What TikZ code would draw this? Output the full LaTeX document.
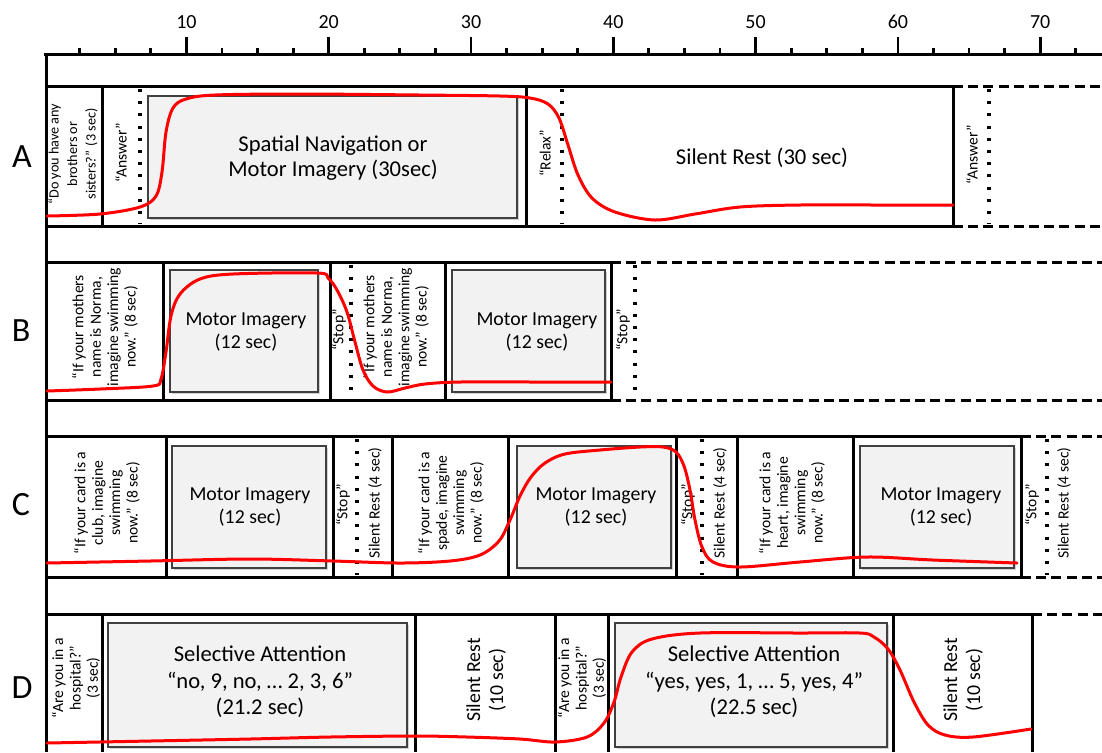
\documentclass[tikz,border=0pt]{standalone}
\usepackage{fontspec}
\setmainfont{Carlito}
\usetikzlibrary{shadows,fit}
\begin{document}
\begin{tikzpicture}[x=0.5pt,y=-0.5pt,
  frame/.style={line width=1.5pt},
  dashline/.style={line width=1.5pt, dash pattern=on 5pt off 2.6pt},
  dotline/.style={line width=1.6pt, dash pattern=on 1.5pt off 4.6pt},
  greybox/.style={draw=black!75, line width=0.6pt, fill=black!5, inner sep=0pt,
     drop shadow={shadow xshift=1.2pt, shadow yshift=-1.2pt, fill=black!35}},
  redcurve/.style={draw=red, line width=1.5pt, line join=round, line cap=round},
  small/.style={rotate=90, align=center, font=\fontsize{7.8}{8.7}\selectfont, inner sep=0pt},
  smallA/.style={rotate=90, align=center, font=\fontsize{7.1}{9.2}\selectfont, inner sep=0pt},
  mid/.style={rotate=90, align=center, font=\fontsize{9.9}{11.5}\selectfont, inner sep=0pt},
  bigA/.style={align=center, font=\fontsize{11.3}{12.8}\selectfont, inner sep=0pt},
  bigB/.style={align=center, font=\fontsize{9.9}{11.5}\selectfont, inner sep=0pt},
  bigD/.style={align=center, font=\fontsize{11.3}{13.3}\selectfont, inner sep=0pt},
  rowlbl/.style={font=\fontsize{17}{19}\selectfont, inner sep=0pt},
  rulerlbl/.style={font=\fontsize{10}{11}\selectfont, inner sep=0pt}]
\useasboundingbox (0,0) rectangle (1102,752);
\fill[white] (0,0) rectangle (1102,752);

% ruler
\draw[frame] (44,54) -- (1102,54);
\foreach \t in {2.5,5,...,72.5} \draw[line width=1.4pt] ({44.1+14.23*\t},54) -- ({44.1+14.23*\t},48);
\foreach \t in {10,20,...,70} {
  \draw[line width=1.4pt] ({44.1+14.23*\t},54) -- ({44.1+14.23*\t},37);
  \node[rulerlbl] (r\t) at ({44.1+14.23*\t},22) {\t};
}
% left frame
\draw[frame] (46,54) -- (46,752);

% row labels
\node[rowlbl] (lA) at (22,157) {A};
\node[rowlbl] (lB) at (21,331) {B};
\node[rowlbl] (lC) at (21,505) {C};
\node[rowlbl] (lD) at (22,688) {D};

% ---------------- Row A
\draw[frame] (46,86) -- (953,86);
\draw[frame] (46,226) -- (953,226);
\draw[dashline] (953,86) -- (1102,86);
\draw[dashline] (953,226) -- (1102,226);
\foreach \x in {102,526,953} \draw[frame] (\x,86) -- (\x,226);
\foreach \x in {140,562,989} \draw[dotline] (\x,89) -- (\x,224);
\node[smallA] (a1) at (73,154) {“Do you have any\\brothers or\\sisters?” (3 sec)};
\node[small] (a2) at (121,153) {“Answer”};
\node[greybox, fit={(148,96) (517,218)}] (aBox) {};
\node[bigA] (aBoxT) at (333,158) {Spatial Navigation or\\Motor Imagery (30sec)};
\node[small] (a3) at (545,153) {“Relax”};
\node[bigA] (a4) at (762,158) {Silent Rest (30 sec)};
\node[small] (a5) at (972,155) {“Answer”};
\draw[redcurve] plot[smooth, tension=0.55] coordinates {(47,216) (100,214) (140,207) (156,196) (162,172) (166,132) (173,108) (186,99) (215,95) (300,94) (420,95) (500,96) (530,98) (548,104) (559,118) (568,145) (578,175) (592,198) (615,212) (655,220) (695,214) (740,207) (800,205) (880,205) (953,205)};

% ---------------- Row B
\draw[frame] (46,262) -- (611,262);
\draw[frame] (46,400) -- (611,400);
\draw[dashline] (611,262) -- (1102,262);
\draw[dashline] (611,400) -- (1102,400);
\foreach \x in {163,330,445,611} \draw[frame] (\x,262) -- (\x,400);
\foreach \x in {351,635} \draw[dotline] (\x,265) -- (\x,398);
\node[small] (b1) at (105,327) {“If your mothers\\name is Norma,\\imagine swimming\\now.” (8 sec)};
\node[greybox, fit={(170,270) (318,392)}] (bBox1) {};
\node[bigB] (bBox1T) at (246,332) {Motor Imagery\\(12 sec)};
\node[small] (b2) at (339,330) {“Stop”};
\node[small] (b3) at (396,327) {“If your mothers\\name is Norma,\\imagine swimming\\now.” (8 sec)};
\node[greybox, fit={(452,270) (605,392)}] (bBox2) {};
\node[bigB] (bBox2T) at (537,332) {Motor Imagery\\(12 sec)};
\node[small] (b4) at (623,330) {“Stop”};
\draw[redcurve] plot[smooth, tension=0.55] coordinates {(47,391) (100,389) (153,386) (161,379) (166,352) (171,316) (180,294) (200,279) (233,274) (317,273) (328,278) (337,290) (347,312) (355,342) (363,370) (373,386) (387,392) (405,388) (425,384) (460,382) (540,382) (611,382)};

% ---------------- Row C
\draw[frame] (46,436) -- (1021,436);
\draw[frame] (46,577) -- (1021,577);
\draw[dashline] (1021,436) -- (1102,436);
\draw[dashline] (1021,577) -- (1102,577);
\foreach \x in {166,333,392,508,676,737,853,1021} \draw[frame] (\x,436) -- (\x,577);
\foreach \x in {357,702,1047} \draw[dotline] (\x,439) -- (\x,575);
\node[small] (c1) at (107,503) {“If your card is a\\club, imagine\\swimming\\now.” (8 sec)};
\node[greybox, fit={(172,446) (326,568)}] (cBox1) {};
\node[bigB] (cBox1T) at (250,507) {Motor Imagery\\(12 sec)};
\node[small] (c2) at (343,505) {“Stop”};
\node[small] (c3) at (375,503) {Silent Rest (4 sec)};
\node[small] (c4) at (451,503) {“If your card is a\\spade, imagine\\swimming\\now.” (8 sec)};
\node[greybox, fit={(517,446) (671,568)}] (cBox2) {};
\node[bigB] (cBox2T) at (596,507) {Motor Imagery\\(12 sec)};
\node[small] (c5) at (688,505) {“Stop”};
\node[small] (c6) at (720,503) {Silent Rest (4 sec)};
\node[small] (c7) at (792,503) {“If your card is a\\heart, imagine\\swimming\\now.” (8 sec)};
\node[greybox, fit={(860,446) (1014,568)}] (cBox3) {};
\node[bigB] (cBox3T) at (941,507) {Motor Imagery\\(12 sec)};
\node[small] (c8) at (1032,505) {“Stop”};
\node[small] (c9) at (1064,503) {Silent Rest (4 sec)};
\draw[redcurve] plot[smooth, tension=0.55] coordinates {(47,563) (150,561) (250,559) (333,561) (400,563) (450,561) (480,555) (499,541) (510,520) (520,496) (531,477) (545,463) (565,454) (600,450) (640,447) (663,447) (676,452) (684,466) (690,490) (695,520) (702,547) (713,562) (740,567) (800,562) (867,557) (933,560) (1017,563)};

% ---------------- Row D
\draw[frame] (46,614) -- (1032,614);
\draw[dashline] (1032,614) -- (1102,614);
\foreach \x in {102,415,555,608,893,1032} \draw[frame] (\x,614) -- (\x,752);
\node[small] (d1) at (76,678) {“Are you in a\\hospital?”\\(3 sec)};
\node[greybox, fit={(108,623) (407,747)}] (dBox1) {};
\node[bigD] (dBox1T) at (260,682) {Selective Attention\\“no, 9, no, … 2, 3, 6”\\(21.2 sec)};
\node[mid] (d2) at (486,680) {Silent Rest\\(10 sec)};
\node[small] (d3) at (582,678) {“Are you in a\\hospital?”\\(3 sec)};
\node[greybox, fit={(615,623) (887,747)}] (dBox2) {};
\node[bigD] (dBox2T) at (754,682) {Selective Attention\\“yes, yes, 1, … 5, yes, 4”\\(22.5 sec)};
\node[mid] (d4) at (963,680) {Silent Rest\\(10 sec)};
\draw[redcurve] plot[smooth, tension=0.55] coordinates {(47,743) (150,741) (250,739) (330,737) (415,736) (467,737) (520,739) (555,742) (587,737) (604,723) (614,702) (621,677) (632,652) (652,639) (700,633) (800,633) (860,633) (874,637) (888,649) (900,670) (914,702) (928,725) (945,735) (973,737) (1031,729)};
\end{tikzpicture}
\end{document}
